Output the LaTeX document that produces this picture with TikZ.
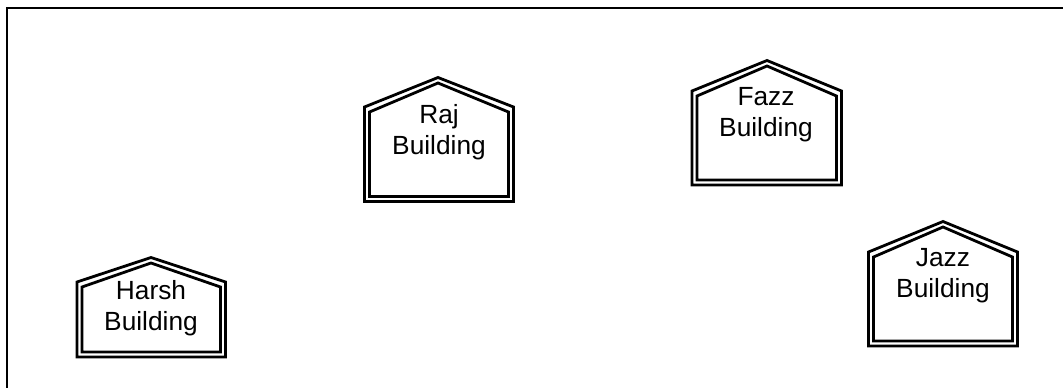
\documentclass[tikz,border=0pt]{standalone}
\usepackage{fontspec}
\setmainfont{Liberation Sans}
\begin{document}
\begin{tikzpicture}[x=1pt,y=-1pt,
  wall/.style={draw=black,line width=2.8pt,miter limit=10,fill=none},
  frame/.style={draw=black,line width=2.4pt},
  label/.style={align=center,inner sep=0pt,font=\fontsize{26.3pt}{31pt}\selectfont,text=black}]
\useasboundingbox (0,0) rectangle (1063,388);
\draw[frame] (7,388) -- (7,8) -- (1063,8);
% Raj
\draw[wall] (364.5,107) -- (438,77.5) -- (513.5,107) -- (513.5,201.5) -- (364.5,201.5) -- cycle;
\draw[wall] (369.5,112) -- (438,83) -- (508.5,112) -- (508.5,196.5) -- (369.5,196.5) -- cycle;
\node[label] (raj) at (439,132.5) {Raj\\Building};
% Fazz
\draw[wall] (692,91) -- (767,60.5) -- (841.5,91) -- (841.5,185) -- (692,185) -- cycle;
\draw[wall] (697,96) -- (767,66) -- (836.5,96) -- (836.5,180) -- (697,180) -- cycle;
\node[label] (fazz) at (766,115) {Fazz\\Building};
% Jazz
\draw[wall] (868.5,252) -- (943,221.5) -- (1017.5,252) -- (1017.5,346) -- (868.5,346) -- cycle;
\draw[wall] (873.5,257) -- (943,227) -- (1012.5,257) -- (1012.5,341) -- (873.5,341) -- cycle;
\node[label] (jazz) at (943,276) {Jazz\\Building};
% Harsh
\draw[wall] (77,282) -- (151,257.5) -- (225.5,282) -- (225.5,357) -- (77,357) -- cycle;
\draw[wall] (82,287) -- (151,263) -- (220.5,287) -- (220.5,352) -- (82,352) -- cycle;
\node[label] (harsh) at (151,308) {Harsh\\Building};
\end{tikzpicture}
\end{document}
